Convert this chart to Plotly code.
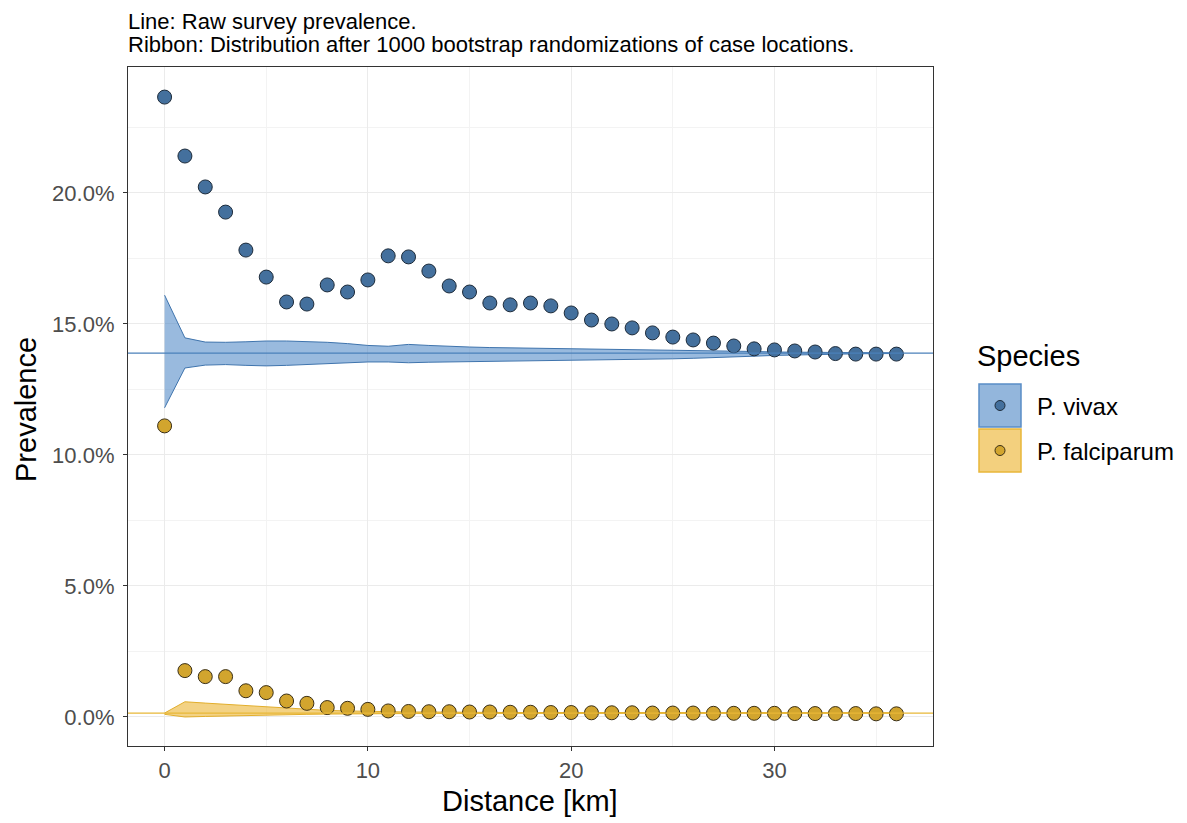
import plotly.graph_objects as go

# ---------------- data ----------------
distance_km = list(range(0, 37))

vivax_prev = [23.66, 21.41, 20.23, 19.27, 17.82, 16.79, 15.84, 15.76, 16.49, 16.22,
              16.68, 17.60, 17.56, 17.02, 16.45, 16.22, 15.80, 15.73, 15.80, 15.69,
              15.42, 15.15, 15.00, 14.85, 14.66, 14.50, 14.39, 14.27, 14.16, 14.05,
              14.01, 13.97, 13.93, 13.87, 13.85, 13.85, 13.85]
vivax_upper = [16.10, 14.47, 14.31, 14.30, 14.32, 14.35, 14.35, 14.33, 14.30, 14.25,
               14.18, 14.15, 14.22, 14.18, 14.14, 14.12, 14.10, 14.09, 14.08, 14.07,
               14.06, 14.05, 14.04, 14.03, 14.02, 14.01, 14.00, 13.99, 13.97, 13.95,
               13.93, 13.92, 13.91, 13.91, 13.90, 13.90, 13.90]
vivax_lower = [11.80, 13.32, 13.43, 13.45, 13.42, 13.40, 13.42, 13.45, 13.48, 13.50,
               13.55, 13.55, 13.52, 13.54, 13.55, 13.56, 13.57, 13.58, 13.58, 13.60,
               13.61, 13.62, 13.63, 13.64, 13.65, 13.67, 13.69, 13.71, 13.74, 13.77,
               13.80, 13.82, 13.84, 13.85, 13.86, 13.87, 13.87]
vivax_overall = 13.89

falc_prev = [11.11, 1.77, 1.54, 1.54, 1.00, 0.93, 0.61, 0.52, 0.36, 0.33,
             0.29, 0.23, 0.21, 0.20, 0.20, 0.19, 0.19, 0.18, 0.18, 0.17,
             0.17, 0.16, 0.16, 0.16, 0.15, 0.15, 0.15, 0.14, 0.14, 0.14,
             0.14, 0.13, 0.13, 0.13, 0.13, 0.12, 0.12]
falc_upper = [0.15, 0.58, 0.53, 0.48, 0.43, 0.38, 0.33, 0.28, 0.25, 0.23,
              0.21, 0.20, 0.19, 0.19, 0.18, 0.18, 0.18, 0.17, 0.17, 0.17,
              0.17, 0.17, 0.16, 0.16, 0.16, 0.16, 0.16, 0.16, 0.16, 0.16,
              0.16, 0.16, 0.16, 0.16, 0.16, 0.16, 0.16]
falc_lower = [0.10, 0.00, 0.02, 0.04, 0.06, 0.08, 0.09, 0.10, 0.11, 0.12,
              0.12, 0.13, 0.13, 0.13, 0.14, 0.14, 0.14, 0.14, 0.14, 0.14,
              0.15, 0.15, 0.15, 0.15, 0.15, 0.15, 0.15, 0.15, 0.15, 0.15,
              0.15, 0.15, 0.15, 0.15, 0.15, 0.15, 0.15]
falc_overall = 0.15

species = ["P. vivax", "P. falciparum"]
x_ticks = [0, 10, 20, 30]
y_ticks = [0, 5, 10, 15, 20]
y_tick_labels = ["0.0%", "5.0%", "10.0%", "15.0%", "20.0%"]

title_lines = ["Line: Raw survey prevalence.",
               "Ribbon: Distribution after 1000 bootstrap randomizations of case locations."]
x_title = "Distance [km]"
y_title = "Prevalence"
legend_title = "Species"

# ---------------- styles ----------------
FONT = "Liberation Sans, Arial, sans-serif"
styles = {
    "P. vivax": dict(ribbon_fill="rgba(70,130,195,0.55)", ribbon_line="#3f74ad",
                     hline="#4a80ba", point_fill="#44709d", point_line="#1d2b3a",
                     key_fill="#93b6dc", key_line="#5a8dc6"),
    "P. falciparum": dict(ribbon_fill="rgba(235,180,50,0.6)", ribbon_line="#e2ae2c",
                          hline="#e8b737", point_fill="#d2a52e", point_line="#3a2f16",
                          key_fill="#f3d07e", key_line="#e9b63a"),
}

series = {
    "P. vivax": (vivax_prev, vivax_lower, vivax_upper, vivax_overall),
    "P. falciparum": (falc_prev, falc_lower, falc_upper, falc_overall),
}

fig = go.Figure()

# ribbons
for sp in species:
    prev, lo, hi, overall = series[sp]
    st = styles[sp]
    fig.add_trace(go.Scatter(x=distance_km, y=lo, mode="lines",
                             line=dict(color=st["ribbon_line"], width=1),
                             showlegend=False, hoverinfo="skip"))
    fig.add_trace(go.Scatter(x=distance_km, y=hi, mode="lines", fill="tonexty",
                             fillcolor=st["ribbon_fill"],
                             line=dict(color=st["ribbon_line"], width=1),
                             showlegend=False, hoverinfo="skip"))

# horizontal lines (overall prevalence)
for sp in species:
    overall = series[sp][3]
    fig.add_shape(type="line", xref="paper", x0=0, x1=1, yref="y",
                  y0=overall, y1=overall,
                  line=dict(color=styles[sp]["hline"], width=1.3), layer="above")

# points
for sp in species:
    prev = series[sp][0]
    st = styles[sp]
    fig.add_trace(go.Scatter(x=distance_km, y=prev, mode="markers", name=sp,
                             marker=dict(size=14, color=st["point_fill"],
                                         line=dict(color=st["point_line"], width=1)),
                             showlegend=False))

# ---------------- layout ----------------
W, H = 1187, 823
OFF = 8  # page offset of the plot div
# desired panel in page pixels
P_L, P_R, P_T, P_B = 128, 933, 67, 746
L = P_L - OFF
T = P_T - OFF
pw = P_R - P_L
ph = P_B - P_T
R = W - L - pw
B = H - T - ph

xmin, xmax = 0, 36
dx = (xmax - xmin) * 0.05
ymin, ymax = 0.07, 23.63
dy = (ymax - ymin) * 0.05

fig.update_layout(
    width=W, height=H,
    margin=dict(l=L, r=R, t=T, b=B),
    paper_bgcolor="white", plot_bgcolor="white",
    font=dict(family=FONT, color="#000000"),
    showlegend=False,
)

fig.update_xaxes(
    range=[xmin - dx, xmax + dx], tickvals=x_ticks, ticktext=[str(v) for v in x_ticks],
    tickfont=dict(size=22, color="#4d4d4d"),
    showgrid=True, gridcolor="#ebebeb", gridwidth=1.2,
    minor=dict(dtick=5, tick0=5, showgrid=True, gridcolor="#f3f3f3", gridwidth=0.6,
               ticks=""),
    ticks="outside", ticklen=4, tickcolor="#333333", tickwidth=1.2,
    showline=True, linecolor="#333333", linewidth=1.2, mirror=True,
    zeroline=False,
)
fig.update_yaxes(
    range=[ymin - dy, ymax + dy], tickvals=y_ticks, ticktext=y_tick_labels,
    tickfont=dict(size=22, color="#4d4d4d"),
    showgrid=True, gridcolor="#ebebeb", gridwidth=1.2,
    minor=dict(dtick=5, tick0=2.5, showgrid=True, gridcolor="#f3f3f3", gridwidth=0.6,
               ticks=""),
    ticks="outside", ticklen=4, tickcolor="#333333", tickwidth=1.2,
    ticklabelstandoff=4,
    showline=True, linecolor="#333333", linewidth=1.2, mirror=True,
    zeroline=False,
)


def px_x(px):
    return (px - P_L) / pw


def px_y(py):
    return 1 - (py - P_T) / ph


annotations = []
# subtitle lines
for i, (line, cy) in enumerate(zip(title_lines, [21, 45])):
    annotations.append(dict(text=line, xref="paper", yref="paper",
                            x=px_x(127), y=px_y(cy), xanchor="left", yanchor="middle",
                            showarrow=False, borderpad=0,
                            font=dict(size=22, color="#000000", family=FONT)))

# axis titles
annotations.append(dict(text=x_title, xref="paper", yref="paper",
                        x=px_x(530), y=px_y(801), xanchor="center", yanchor="middle",
                        showarrow=False, font=dict(size=29, color="#000000", family=FONT)))
annotations.append(dict(text=y_title, xref="paper", yref="paper",
                        x=px_x(26), y=px_y(410), xanchor="center", yanchor="middle",
                        textangle=-90, showarrow=False,
                        font=dict(size=29, color="#000000", family=FONT)))

# manual legend
annotations.append(dict(text=legend_title, xref="paper", yref="paper",
                        x=px_x(975), y=px_y(356), xanchor="left", yanchor="middle",
                        showarrow=False, font=dict(size=29, color="#000000", family=FONT)))
key_top = 383
key_h = 45
for i, sp in enumerate(species):
    st = styles[sp]
    y0 = key_top + i * key_h
    fig.add_shape(type="rect", xref="paper", yref="paper",
                  x0=px_x(979), x1=px_x(1021), y0=px_y(y0 + 1), y1=px_y(y0 + key_h - 1),
                  fillcolor=st["key_fill"], line=dict(color=st["key_line"], width=1.5),
                  layer="above")
    cy = y0 + key_h / 2
    fig.add_shape(type="circle", xref="paper", yref="paper",
                  xsizemode="pixel", ysizemode="pixel",
                  xanchor=px_x(1000), yanchor=px_y(cy),
                  x0=-5, x1=5, y0=-5, y1=5,
                  fillcolor=st["point_fill"], line=dict(color=st["point_line"], width=1),
                  layer="above")
    annotations.append(dict(text=sp, xref="paper", yref="paper",
                            x=px_x(1035), y=px_y(cy + 1), xanchor="left", yanchor="middle",
                            showarrow=False, font=dict(size=24, color="#000000", family=FONT)))

fig.update_layout(annotations=annotations)

fig.write_html("out.html")
